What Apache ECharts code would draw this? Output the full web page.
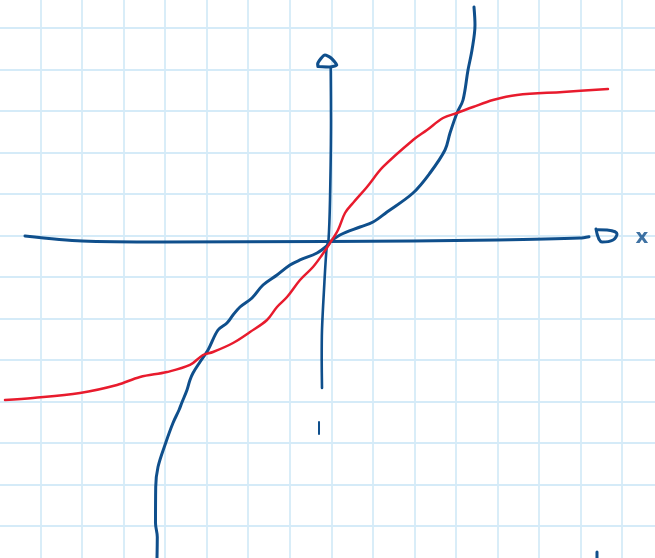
<!DOCTYPE html>
<html>
<head>
<meta charset="utf-8">
<script src="https://cdn.jsdelivr.net/npm/echarts@6/dist/echarts.min.js"></script>
<style>
  html, body { margin: 0; padding: 0; background: #ffffff; }
  #chart { width: 655px; height: 558px; }
</style>
</head>
<body>
<div id="chart"></div>
<script>
// Sketched graph on squared paper; one grid square = one unit.

// Steep, cube-like curve (blue), listed bottom to top
const blueCurve = [
  [-4.196, -7.771], [-4.189, -7.265], [-4.232, -6.928], [-4.227, -6.060],
  [-4.172, -5.578], [-3.979, -4.976], [-3.811, -4.518], [-3.666, -4.205],
  [-3.601, -4.036], [-3.474, -3.723], [-3.402, -3.482], [-3.329, -3.313],
  [-3.161, -3.048], [-2.968, -2.759], [-2.727, -2.277], [-2.511, -2.108],
  [-2.366, -1.916], [-2.198, -1.723], [-1.909, -1.506], [-1.644, -1.193],
  [-1.307, -0.952], [-0.994, -0.711], [-0.753, -0.590], [-0.344, -0.422],
  [-0.079, -0.229], [-0.031, -0.157], [0.209, 0.012], [0.691, 0.205],
  [1.004, 0.325], [1.341, 0.566], [1.967, 1.024], [2.376, 1.506],
  [2.737, 2.060], [2.858, 2.470], [3.026, 2.952], [3.171, 3.265],
  [3.291, 3.988], [3.387, 4.470], [3.459, 5.072], [3.435, 5.506]
];

// Flattening, arctan-like curve (red), listed left to right
const redCurve = [
  [-7.855, -3.964], [-7.181, -3.916], [-6.050, -3.795], [-5.159, -3.602],
  [-4.605, -3.410], [-3.955, -3.289], [-3.402, -3.120], [-3.089, -2.880],
  [-2.848, -2.807], [-2.366, -2.590], [-1.957, -2.325], [-1.548, -2.036],
  [-1.307, -1.723], [-1.066, -1.482], [-0.753, -1.072], [-0.441, -0.759],
  [-0.224, -0.470], [-0.031, -0.181], [0.161, 0.133], [0.330, 0.542],
  [0.522, 0.783], [0.859, 1.169], [1.244, 1.651], [1.967, 2.301],
  [2.304, 2.542], [2.689, 2.831], [3.026, 2.952], [3.411, 3.096],
  [3.892, 3.265], [4.470, 3.386], [5.577, 3.458], [6.660, 3.530]
];

// Hand-drawn coordinate axes
const xAxisStroke = [
  [-7.374, -0.012], [-5.999, -0.133], [-4.049, -0.157], [-0.104, -0.145],
  [1.967, -0.133], [3.989, -0.108], [5.987, -0.060], [6.204, -0.029]
];
const xArrowStroke = [
  [6.372, 0.157], [6.517, -0.157], [6.782, -0.108], [6.878, 0.036],
  [6.637, 0.133], [6.420, 0.140]
];
const yAxisStroke = [
  [-0.014, 4.060], [-0.007, 2.783], [-0.031, 0.855], [-0.067, -0.108],
  [-0.111, -0.277], [-0.176, -1.313], [-0.224, -2.277], [-0.231, -3.000],
  [-0.224, -3.675]
];
const yArrowStroke = [
  [-0.320, 4.072], [-0.327, 4.133], [-0.152, 4.349], [-0.007, 4.277],
  [0.130, 4.108], [-0.031, 4.060], [-0.320, 4.072]
];
const tickStroke = [[-0.296, -4.494], [-0.296, -4.783]];
const cornerStroke = [[6.396, -7.627], [6.396, -7.771]];

// Axis name written beside the horizontal arrow
const xAxisName = [[7.48, -0.06]];

const BLUE = '#0f4f8c';
const RED = '#e81b2d';
const PAPER = '#d5ebf8';

// Grid squares: 41.54 px wide, 41.5 px tall
const CELL_W = 41.54, CELL_H = 41.5;
const X_MIN = -8, X_MAX = 8, Y_MIN = -8, Y_MAX = 6;

function stroke(data, color, width, smooth) {
  return {
    type: 'line', data: data, symbol: 'none', smooth: smooth,
    lineStyle: { color: color, width: width, cap: 'round', join: 'round' },
    silent: true, animation: false
  };
}

const chart = echarts.init(document.getElementById('chart'), null, { renderer: 'canvas' });
chart.setOption({
  backgroundColor: '#ffffff',
  animation: false,
  grid: {
    // the paper grid runs past the page edges, so keep the rect as given
    outerBoundsMode: 'none',
    containLabel: false,
    left: 331.3 - (0 - X_MIN) * CELL_W,
    top: 235.5 - Y_MAX * CELL_H,
    width: (X_MAX - X_MIN) * CELL_W,
    height: (Y_MAX - Y_MIN) * CELL_H
  },
  xAxis: {
    type: 'value', min: X_MIN, max: X_MAX, interval: 1,
    axisLine: { show: false }, axisTick: { show: false }, axisLabel: { show: false },
    splitLine: { show: true, lineStyle: { color: PAPER, width: 1.8 } }
  },
  yAxis: {
    type: 'value', min: Y_MIN, max: Y_MAX, interval: 1,
    axisLine: { show: false }, axisTick: { show: false }, axisLabel: { show: false },
    splitLine: { show: true, lineStyle: { color: PAPER, width: 1.8 } }
  },
  series: [
    stroke(xAxisStroke, BLUE, 3, 0.3),
    stroke(xArrowStroke, BLUE, 3, 0.4),
    stroke(yAxisStroke, BLUE, 2.6, 0.3),
    stroke(yArrowStroke, BLUE, 3.2, 0.2),
    stroke(tickStroke, BLUE, 2, false),
    stroke(cornerStroke, BLUE, 3, false),
    stroke(blueCurve, BLUE, 3, 0.35),
    stroke(redCurve, RED, 2.5, 0.35),
    {
      type: 'scatter', data: xAxisName, symbolSize: 0, silent: true,
      label: {
        show: true, position: 'inside', formatter: 'x',
        color: BLUE, fontSize: 20, fontWeight: 'bold', fontFamily: 'DejaVu Sans'
      }
    }
  ]
});
</script>
</body>
</html>
